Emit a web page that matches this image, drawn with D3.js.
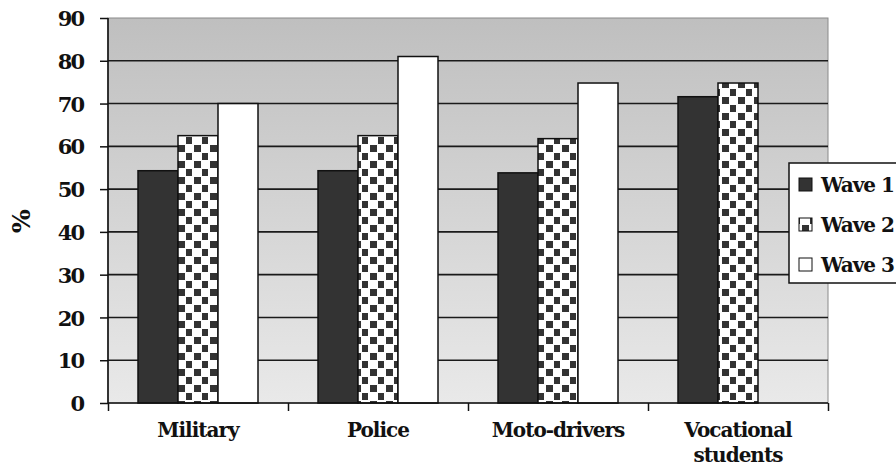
<!DOCTYPE html>
<html><head><meta charset="utf-8">
<script src="https://cdn.jsdelivr.net/npm/d3@7"></script>
<style>
body{margin:0;background:#fff;}
</style></head>
<body><svg id="c" width="896" height="467"></svg>
<script>
const categories = [["Military"],["Police"],["Moto-drivers"],["Vocational","students"]];
const seriesNames = ["Wave 1","Wave 2","Wave 3"];
const wave1 = [54.3, 54.3, 53.8, 71.6];
const wave2 = [62.5, 62.5, 61.8, 74.8];
const wave3 = [70, 81, 74.8, null];
const yTicks = [0,10,20,30,40,50,60,70,80,90];

const FONT = "'DejaVu Serif', serif";
const svg = d3.select("#c");
const m = {l:108, r:828, t:18, b:403};
const x0 = d3.scaleBand().domain(d3.range(categories.length)).range([m.l, m.r]).paddingInner(0).paddingOuter(0);
const x1 = d3.scaleBand().domain(d3.range(3)).range([0, 120]);
const y = d3.scaleLinear().domain([0,90]).range([m.b, m.t]);

const defs = svg.append("defs");
const g = defs.append("linearGradient").attr("id","bg").attr("x1",0).attr("y1",0).attr("x2",0).attr("y2",1);
g.append("stop").attr("offset","0%").attr("stop-color","#bfbfbf");
g.append("stop").attr("offset","100%").attr("stop-color","#e9e9e9");
const p = defs.append("pattern").attr("id","chk").attr("width",16).attr("height",16).attr("patternUnits","userSpaceOnUse").attr("x",0).attr("y",0);
p.append("rect").attr("width",16).attr("height",16).attr("fill","#fff");
p.append("rect").attr("x",2).attr("y",1).attr("width",7).attr("height",7).attr("fill","#333");
p.append("rect").attr("x",10).attr("y",9).attr("width",7).attr("height",7).attr("fill","#333");

svg.append("rect").attr("x",m.l).attr("y",m.t).attr("width",m.r-m.l).attr("height",m.b-m.t).attr("fill","url(#bg)").attr("stroke","#8a8a8a").attr("stroke-width",1);

svg.append("g").selectAll("line").data(yTicks.filter(d=>d>0 && d<90)).join("line")
  .attr("x1",m.l).attr("x2",m.r).attr("y1",d=>y(d)).attr("y2",d=>y(d))
  .attr("stroke","#1a1a1a").attr("stroke-width",1.6);

const fills = ["#333333","url(#chk)","#ffffff"];
const data = [wave1, wave2, wave3];
categories.forEach((c,i)=>{
  const gx = x0(i) + (x0.bandwidth()-120)/2;
  data.forEach((s,j)=>{
    if (s[i]==null) return;
    svg.append("rect").attr("x",gx + x1(j)).attr("y",y(s[i])).attr("width",x1.bandwidth()).attr("height",m.b - y(s[i]))
      .attr("fill",fills[j]).attr("stroke","#111").attr("stroke-width",1.5);
  });
});

const ya = svg.append("g").attr("transform",`translate(${m.l},0)`)
  .call(d3.axisLeft(y).tickValues(yTicks).tickSize(8).tickPadding(16));
ya.attr("font-family", FONT).attr("font-size", 21).attr("font-weight","bold");
ya.select(".domain").attr("stroke","#111").attr("stroke-width",1.6).attr("d",`M-0,${m.t}V${m.b}`);
ya.selectAll(".tick line").attr("stroke","#111").attr("stroke-width",1.5);
ya.selectAll(".tick text").attr("fill","#111").attr("dy","0.36em").attr("x",-25).attr("letter-spacing",-2);

const xa = svg.append("g").attr("transform",`translate(0,${m.b})`)
  .call(d3.axisBottom(d3.scaleLinear().domain([0,4]).range([m.l,m.r])).tickValues([0,1,2,3,4]).tickSize(8).tickFormat(""));
xa.select(".domain").attr("stroke","#111").attr("stroke-width",1.6).attr("d",`M${m.l},0H${m.r}`);
xa.selectAll(".tick line").attr("stroke","#111").attr("stroke-width",1.5);

categories.forEach((c,i)=>{
  const cx = x0(i)+x0.bandwidth()/2;
  const t = svg.append("text").attr("text-anchor","middle").attr("font-size",20)
    .attr("font-family",FONT).attr("font-weight","bold").attr("fill","#111").attr("letter-spacing",-1)
    .attr("transform",`translate(${cx},437)`);
  c.forEach((line,k)=> t.append("tspan").attr("x",0).attr("y", k*25).text(line));
});

svg.append("text").attr("transform","translate(30,221) rotate(-90)").attr("text-anchor","middle")
  .attr("font-family",FONT).attr("font-weight","bold").attr("font-size",25).attr("fill","#111").text("%");

const lg = svg.append("g");
lg.append("rect").attr("x",789).attr("y",163).attr("width",120).attr("height",120).attr("fill","#fff").attr("stroke","#111").attr("stroke-width",1.5);
seriesNames.forEach((n,j)=>{
  const cy = 185 + j*40;
  lg.append("rect").attr("x",799).attr("y",cy-7).attr("width",13).attr("height",13).attr("fill",j===1?"url(#chk)":fills[j]).attr("stroke","#111").attr("stroke-width",1);
  lg.append("text").attr("transform",`translate(821,${cy+7})`).attr("font-family",FONT).attr("font-weight","bold").attr("font-size",20).attr("letter-spacing",-1).attr("fill","#111").text(n);
});
</script></body></html>
